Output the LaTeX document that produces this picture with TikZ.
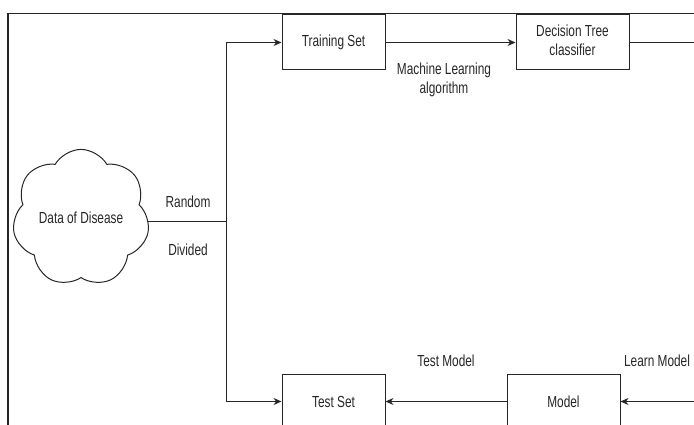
\documentclass[tikz,border=0pt]{standalone}
\usepackage{graphicx}
\usepackage{fontspec}
\setmainfont{Liberation Sans}
\usetikzlibrary{arrows.meta,shapes.symbols}
\newcommand\sqz[1]{\scalebox{0.74}[1]{#1}}
\tikzset{
  box/.style={draw=black!85, line width=1pt, minimum width=103pt, minimum height=55pt, inner sep=0pt, text=black!85},
  lbl/.style={inner sep=0pt, text=black!85},
  conn/.style={draw=black!85, line width=1pt},
  arr/.style={conn, -{Stealth[length=8pt,width=7pt]}},
}
\begin{document}
\begin{tikzpicture}[x=1pt, y=-1pt, font=\fontsize{16}{19}\selectfont]
\useasboundingbox (0,0) rectangle (694,425);
% frame
\draw[line width=1.8pt, black!85] (8,425) -- (8,13.5) -- (694,13.5);
% nodes
\node[cloud, draw=black!85, line width=1pt, cloud puffs=7, cloud puff arc=120, aspect=1,
      minimum width=128pt, minimum height=132pt, inner sep=0pt, text=black!85] (cloud) at (81,218) {\sqz{Data of Disease}};
\node[box] (train) at (333.5,42.5) {\sqz{Training Set}};
\node[box, minimum width=113pt] (tree) at (572.5,42.5) {\sqz{\begin{tabular}{@{}c@{}}Decision Tree\\classifier\end{tabular}}};
\node[box] (test) at (333.5,401.5) {\sqz{Test Set}};
\node[box, minimum width=113pt] (model) at (563.5,401.5) {\sqz{Model}};
% coordinates
\coordinate (j) at (226,222);
\coordinate (e1) at (694,42.5);
\coordinate (e2) at (694,401.5);
% connectors
\draw[conn] (cloud.east |- j) -- (j);
\draw[arr] (j) |- (train);
\draw[arr] (j) |- (test);
\draw[arr] (train) -- (tree);
\draw[conn] (tree) -- (e1);
\draw[arr] (e2) -- (model);
\draw[arr] (model) -- (test);
% labels
\node[lbl] (lrand) at (188,202) {\sqz{Random}};
\node[lbl] (ldiv) at (188,250) {\sqz{Divided}};
\node[lbl] (lml) at (444,80) {\sqz{\begin{tabular}{@{}c@{}}Machine Learning\\algorithm\end{tabular}}};
\node[lbl] (ltest) at (446,361) {\sqz{Test Model}};
\node[lbl] (llearn) at (657,361) {\sqz{Learn Model}};
\end{tikzpicture}
\end{document}
